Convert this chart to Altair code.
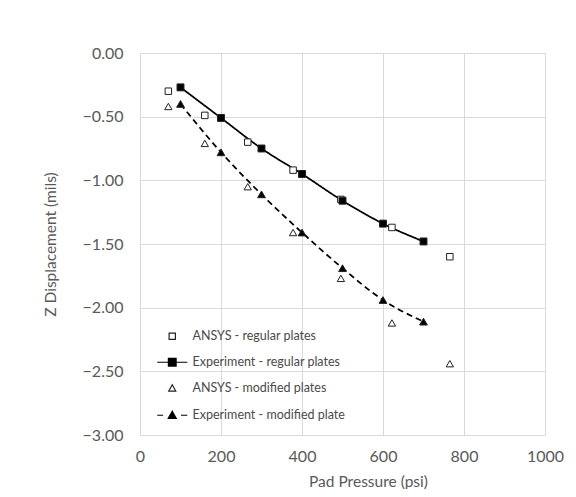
import altair as alt
import pandas as pd

# ---- data ----
series_names = [
    "ANSYS - regular plates",
    "Experiment - regular plates",
    "ANSYS - modified plates",
    "Experiment - modified plate",
]
pressure_exp = [100, 200, 300, 400, 500, 600, 700]
exp_regular = [-0.27, -0.51, -0.75, -0.95, -1.16, -1.34, -1.48]
exp_modified = [-0.40, -0.78, -1.11, -1.41, -1.69, -1.94, -2.11]
pressure_ansys = [70, 160, 266, 378, 496, 622, 765]
ansys_regular = [-0.30, -0.49, -0.70, -0.92, -1.15, -1.37, -1.60]
ansys_modified = [-0.42, -0.71, -1.05, -1.41, -1.77, -2.12, -2.44]
x_ticks = [0, 200, 400, 600, 800, 1000]
y_ticks = [0.0, -0.5, -1.0, -1.5, -2.0, -2.5, -3.0]

rows = []
for xs, ys, name in [
    (pressure_ansys, ansys_regular, series_names[0]),
    (pressure_exp, exp_regular, series_names[1]),
    (pressure_ansys, ansys_modified, series_names[2]),
    (pressure_exp, exp_modified, series_names[3]),
]:
    for xv, yv in zip(xs, ys):
        rows.append({"series": name, "x": xv, "y": yv})
df = pd.DataFrame(rows)

FONT = "Lato"
GREY = "#595959"

x_enc = alt.X(
    "x:Q",
    scale=alt.Scale(domain=[0, 1000], nice=False),
    axis=alt.Axis(
        values=x_ticks, format="d", title="Pad Pressure  (psi)",
        grid=True, ticks=False, domain=False, labelFlush=False,
        labelPadding=13, labelFontSize=16, labelColor=GREY, labelFont=FONT,
        titleFontSize=15.5, titleColor=GREY, titleFont=FONT, titleFontWeight="normal",
        titleX=228, titleY=46, titleBaseline="middle", titleAlign="center",
    ),
)
y_enc = alt.Y(
    "y:Q",
    scale=alt.Scale(domain=[-3, 0], nice=False),
    axis=alt.Axis(
        values=y_ticks, format=".2f", title="Z Displacement  (mils)",
        grid=True, ticks=False, domain=False, labelFlush=False,
        labelPadding=17, labelFontSize=16, labelColor=GREY, labelFont=FONT,
        titleFontSize=15.5, titleColor=GREY, titleFont=FONT, titleFontWeight="normal",
        titleX=-90, titleY=191, titleBaseline="middle", titleAlign="center", titleAngle=270,
    ),
)

base = alt.Chart(df)

lines = base.transform_filter(
    alt.FieldOneOfPredicate(field="series", oneOf=[series_names[1], series_names[3]])
).mark_line(color="black", strokeWidth=1.75, interpolate="monotone").encode(
    x=x_enc, y=y_enc,
    strokeDash=alt.StrokeDash(
        "series:N",
        scale=alt.Scale(domain=[series_names[1], series_names[3]], range=[[1, 0], [6, 4]]),
        legend=None,
    ),
)

points = base.mark_point(filled=False, stroke="#222222", strokeWidth=1, opacity=1).encode(
    x=x_enc, y=y_enc,
    shape=alt.Shape(
        "series:N",
        scale=alt.Scale(domain=series_names,
                        range=["square", "square", "triangle-up", "triangle-up"]),
        legend=None,
    ),
    fill=alt.Fill(
        "series:N",
        scale=alt.Scale(domain=series_names, range=["white", "black", "white", "black"]),
        legend=None,
    ),
    size=alt.Size(
        "series:N",
        scale=alt.Scale(domain=series_names, range=[42, 60, 55, 70]),
        legend=None,
    ),
)

legend_paths = [
    "M-0.9,-0.9H0.9V0.9H-0.9Z",
    "M-4.3,0H4.3M-1.1,-1.1H1.1V1.1H-1.1Z",
    "M0,-1L1,0.8H-1Z",
    "M-4.3,0H-2.6M2.5,0H4.3M0,-1.15L1.15,0.9H-1.15Z",
]
leg = alt.Legend(
    title=None, orient="none", legendX=26, legendY=277,
    symbolSize=49, symbolStrokeWidth=1.2, symbolStrokeColor="black",
    labelFont=FONT, labelFontSize=12.5, labelColor="#4a4a4a", labelLimit=300,
    labelOffset=14, rowPadding=13, padding=0,
)
legend_layer = base.transform_filter("false").mark_point(
    filled=False, strokeWidth=1.2, opacity=1
).encode(
    x=x_enc, y=y_enc,
    shape=alt.Shape("series:N", scale=alt.Scale(domain=series_names, range=legend_paths), legend=leg),
    fill=alt.Fill("series:N",
                  scale=alt.Scale(domain=series_names, range=["white", "black", "white", "black"]),
                  legend=leg),
    stroke=alt.Stroke("series:N",
                      scale=alt.Scale(domain=series_names, range=["#222222", "black", "#222222", "black"]),
                      legend=leg),
)

chart = alt.layer(lines, points, legend_layer).resolve_scale(
    shape="independent", fill="independent", stroke="independent"
).properties(
    width=405, height=382,
    autosize=alt.AutoSizeParams(type="none"),
    padding={"left": 132, "top": 45, "right": 20, "bottom": 54},
).configure_view(stroke=None).configure_axis(
    gridColor="#d9d9d9", gridWidth=1
)

chart.save("out.html", embed_options={"renderer": "svg", "actions": False})
